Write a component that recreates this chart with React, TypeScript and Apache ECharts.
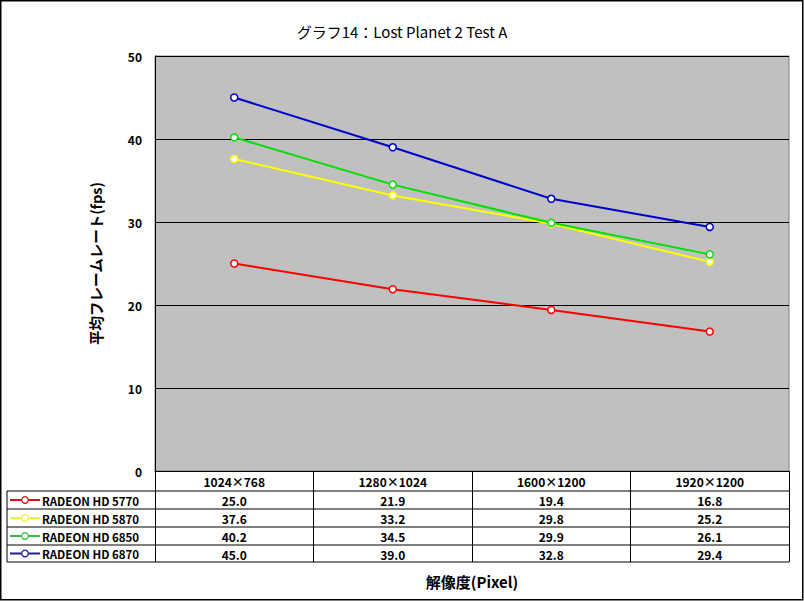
import React, { useEffect, useRef } from "react";
import * as echarts from "echarts";

const categories = ["1024×768", "1280×1024", "1600×1200", "1920×1200"];
const seriesNames = ["RADEON HD 5770", "RADEON HD 5870", "RADEON HD 6850", "RADEON HD 6870"];
const hd5770 = [25.0, 21.9, 19.4, 16.8];
const hd5870 = [37.6, 33.2, 29.8, 25.2];
const hd6850 = [40.2, 34.5, 29.9, 26.1];
const hd6870 = [45.0, 39.0, 32.8, 29.4];
const seriesColors = ["#ff0000", "#ffff00", "#00e000", "#0000cc"];
const legendColors = ["#d01818", "#f0f040", "#30c040", "#202090"];
const yTicks = { min: 0, max: 50, interval: 10 };

const FONT = "'Noto Sans CJK JP', 'DejaVu Sans', sans-serif";

export default function App() {
  const ref = useRef<HTMLDivElement>(null);
  useEffect(() => {
    document.body.style.margin = "0";
    if (!ref.current) return;
    const chart = echarts.init(ref.current, null, { renderer: "svg" });
    const allSeries = [hd5770, hd5870, hd6850, hd6870];
    const gridL = 155, gridR = 789, gridT = 56, gridB = 471;
    const rowLines = [491, 509, 527, 545, 562];
    const colW = (gridR - gridL) / categories.length;

    const graphics: any[] = [];
    graphics.push({
      type: "rect",
      shape: { x: 0.75, y: 0.75, width: 802, height: 599 },
      style: { fill: "none", stroke: "#000", lineWidth: 1.5 },
      silent: true,
    });
    rowLines.forEach((y) => {
      graphics.push({
        type: "line",
        shape: { x1: 7, y1: y, x2: gridR, y2: y },
        style: { stroke: "#000", lineWidth: 1 },
        silent: true,
      });
    });
    graphics.push({
      type: "line",
      shape: { x1: 7, y1: rowLines[0], x2: 7, y2: rowLines[rowLines.length - 1] },
      style: { stroke: "#000", lineWidth: 1 },
      silent: true,
    });
    allSeries.forEach((vals, r) => {
      const cy = (rowLines[r] + rowLines[r + 1]) / 2;
      graphics.push({
        type: "line",
        shape: { x1: 10, y1: cy, x2: 40, y2: cy },
        style: { stroke: legendColors[r], lineWidth: 2 },
        silent: true,
      });
      graphics.push({
        type: "circle",
        shape: { cx: 25, cy, r: 3.3 },
        style: { fill: "#fff", stroke: legendColors[r], lineWidth: 1.2 },
        silent: true,
      });
      graphics.push({
        type: "text",
        x: 42,
        y: cy + 0.5,
        style: {
          text: seriesNames[r],
          fill: "#000",
          font: `bold 11.5px ${FONT}`,
          align: "left",
          verticalAlign: "middle",
        },
        silent: true,
      });
      vals.forEach((v, c) => {
        graphics.push({
          type: "text",
          x: gridL + (c + 0.5) * colW,
          y: cy + 0.5,
          style: {
            text: v.toFixed(1),
            fill: "#000",
            font: `bold 12px ${FONT}`,
            align: "center",
            verticalAlign: "middle",
          },
          silent: true,
        });
      });
    });

    chart.setOption({
      animation: false,
      backgroundColor: "#fff",
      title: {
        text: "グラフ14：Lost Planet 2 Test A",
        left: "center",
        top: 19,
        textStyle: { fontFamily: FONT, fontSize: 15, fontWeight: "normal", color: "#000" },
      },
      grid: {
        left: gridL,
        right: 804 - gridR,
        top: gridT,
        bottom: 601 - gridB,
        show: true,
        backgroundColor: "#c0c0c0",
        borderColor: "#808080",
        borderWidth: 1,
      },
      legend: { show: false, data: seriesNames },
      xAxis: {
        type: "category",
        data: categories,
        boundaryGap: true,
        axisLine: { show: true, lineStyle: { color: "#000", width: 1 } },
        axisTick: { show: true, length: 91, interval: 0, lineStyle: { color: "#000", width: 1 } },
        axisLabel: {
          interval: 0,
          margin: 4,
          fontFamily: FONT,
          fontSize: 12,
          fontWeight: "bold",
          color: "#000",
        },
        name: "解像度(Pixel)",
        nameLocation: "middle",
        nameGap: 103,
        nameTextStyle: { fontFamily: FONT, fontSize: 15, fontWeight: "bold", color: "#000" },
      },
      yAxis: {
        type: "value",
        min: yTicks.min,
        max: yTicks.max,
        interval: yTicks.interval,
        axisLine: { show: true, lineStyle: { color: "#000", width: 1 } },
        axisTick: { show: false },
        splitLine: { show: true, lineStyle: { color: "#000", width: 1 } },
        axisLabel: {
          margin: 13,
          fontFamily: FONT,
          fontSize: 12,
          fontWeight: "bold",
          color: "#000",
        },
        name: "平均フレームレート(fps)",
        nameLocation: "middle",
        nameGap: 52,
        nameRotate: 90,
        nameTextStyle: { fontFamily: FONT, fontSize: 14.5, fontWeight: "bold", color: "#000" },
      },
      series: allSeries.map((vals, i) => ({
        name: seriesNames[i],
        type: "line",
        data: vals,
        symbol: "circle",
        symbolSize: 7,
        lineStyle: { color: seriesColors[i], width: 2 },
        itemStyle: { color: "#fff", borderColor: seriesColors[i], borderWidth: 1.5 },
        color: seriesColors[i],
      })),
      graphic: graphics,
    });
    return () => chart.dispose();
  }, []);
  return <div ref={ref} style={{ width: 804, height: 601 }} />;
}
